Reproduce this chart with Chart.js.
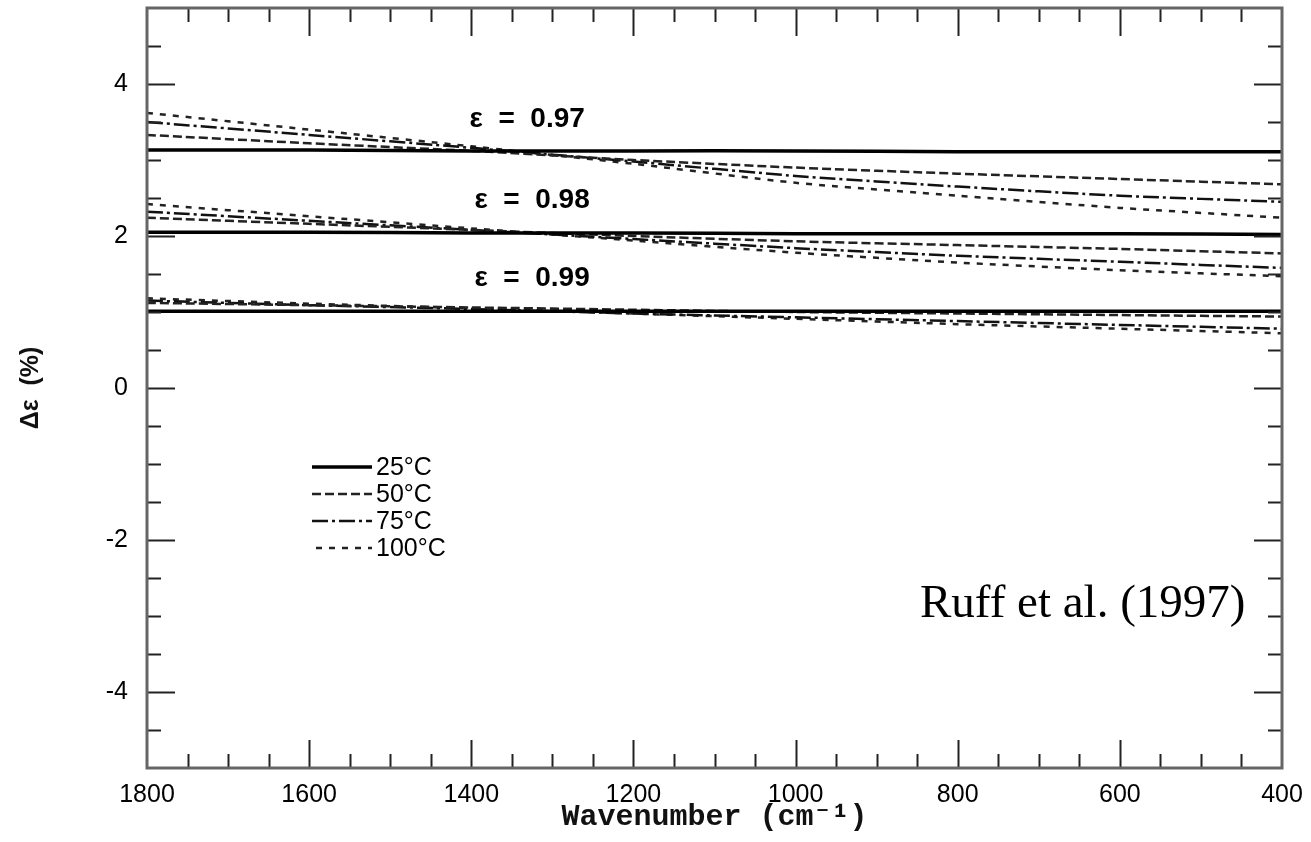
<!DOCTYPE html>
<html>
<head>
<meta charset="utf-8">
<script src="https://cdn.jsdelivr.net/npm/chart.js@4.4.1/dist/chart.umd.min.js"></script>
<style>
  html, body { margin: 0; padding: 0; background: #fff; }
  #wrap { width: 1311px; height: 842px; }
</style>
</head>
<body>
<div id="wrap"><canvas id="chart" width="1311" height="842"></canvas></div>
<script>
// wavenumber (cm-1) sample points
const wavenumbers = [1800, 1600, 1400, 1200, 1000, 800, 600, 400];

// delta emissivity (%) for eps = 0.97
const e97_25  = [3.13, 3.13, 3.12, 3.12, 3.12, 3.11, 3.11, 3.11];
const e97_50  = [3.33, 3.22, 3.12, 3.00, 2.90, 2.82, 2.75, 2.68];
const e97_75  = [3.50, 3.33, 3.16, 2.98, 2.79, 2.65, 2.53, 2.45];
const e97_100 = [3.62, 3.40, 3.18, 2.95, 2.70, 2.53, 2.37, 2.24];
// eps = 0.98
const e98_25  = [2.05, 2.05, 2.04, 2.04, 2.03, 2.03, 2.03, 2.02];
const e98_50  = [2.24, 2.16, 2.08, 2.00, 1.93, 1.88, 1.83, 1.77];
const e98_75  = [2.32, 2.20, 2.08, 1.96, 1.84, 1.74, 1.66, 1.58];
const e98_100 = [2.42, 2.26, 2.10, 1.94, 1.78, 1.65, 1.55, 1.47];
// eps = 0.99
const e99_25  = [1.01, 1.01, 1.01, 1.01, 1.01, 1.01, 1.01, 1.01];
const e99_50  = [1.12, 1.09, 1.06, 1.03, 1.00, 0.98, 0.96, 0.94];
const e99_75  = [1.15, 1.09, 1.04, 0.98, 0.93, 0.88, 0.83, 0.78];
const e99_100 = [1.18, 1.11, 1.05, 0.98, 0.91, 0.84, 0.78, 0.72];

const temps = ["25°C", "50°C", "75°C", "100°C"];
const groups = [
  [e97_25, e97_50, e97_75, e97_100],
  [e98_25, e98_50, e98_75, e98_100],
  [e99_25, e99_50, e99_75, e99_100],
];
const epsLabels = ["ε  =  0.97", "ε  =  0.98", "ε  =  0.99"];
const epsLabelX = [1331, 1325, 1325];
const epsLabelY = [3.53, 2.47, 1.45];
const yLabelTicks = [-4, -2, 0, 2, 4];

const styles = [
  {color: "#000",    width: 3.5, dash: []},
  {color: "#222",    width: 2.5, dash: [9, 4]},
  {color: "#111",    width: 2.5, dash: [16, 4, 3, 4]},
  {color: "#222",    width: 2.5, dash: [6, 7]},
];

const datasets = [];
groups.forEach((g, gi) => {
  g.forEach((vals, ti) => {
    const s = styles[ti];
    datasets.push({
      label: temps[ti] + " " + epsLabels[gi],
      data: wavenumbers.map((w, i) => ({x: w, y: vals[i]})),
      borderColor: s.color, borderWidth: s.width, borderDash: s.dash,
      pointRadius: 0, fill: false, tension: 0.2,
    });
  });
});

const noPad = s => { s.paddingTop = 0; s.paddingBottom = 0; s.paddingLeft = 0; s.paddingRight = 0; };

const decor = {
  id: "decor",
  afterDatasetsDraw(chart) {
    const {ctx, chartArea: a, scales: {x, y}} = chart;
    ctx.save();
    // inward ticks on all four sides
    ctx.strokeStyle = "#222";
    ctx.lineWidth = 2;
    for (let v = 450; v < 1800; v += 50) {
      const len = v % 200 === 0 ? 28 : 14;
      const px = Math.round(x.getPixelForValue(v)) + 0.5;
      ctx.beginPath();
      ctx.moveTo(px, a.bottom); ctx.lineTo(px, a.bottom - len);
      ctx.moveTo(px, a.top); ctx.lineTo(px, a.top + len);
      ctx.stroke();
    }
    for (let v = -4.5; v < 5; v += 0.5) {
      const len = v % 2 === 0 ? 28 : 14;
      const py = Math.round(y.getPixelForValue(v)) + 0.5;
      ctx.beginPath();
      ctx.moveTo(a.left, py); ctx.lineTo(a.left + len, py);
      ctx.moveTo(a.right, py); ctx.lineTo(a.right - len, py);
      ctx.stroke();
    }
    // frame
    ctx.strokeStyle = "#666";
    ctx.lineWidth = 3;
    ctx.strokeRect(a.left, a.top, a.right - a.left, a.bottom - a.top);

    // emissivity labels
    ctx.fillStyle = "#000";
    ctx.font = "bold 28px 'Liberation Sans', Arial, sans-serif";
    ctx.textAlign = "center";
    ctx.textBaseline = "middle";
    epsLabels.forEach((t, i) => {
      ctx.fillText(t, x.getPixelForValue(epsLabelX[i]), y.getPixelForValue(epsLabelY[i]));
    });

    // legend
    ctx.textAlign = "left";
    ctx.font = "25px 'Liberation Sans', Arial, sans-serif";
    temps.forEach((t, i) => {
      const ly = 467 + i * 27;
      const s = styles[i];
      ctx.strokeStyle = s.color;
      ctx.lineWidth = s.width;
      ctx.setLineDash(s.dash);
      ctx.beginPath();
      ctx.moveTo(i === 3 ? 316 : 312, ly); ctx.lineTo(372, ly);
      ctx.stroke();
      ctx.setLineDash([]);
      ctx.fillText(t, 376, ly + 1);
    });

    // citation
    ctx.font = "47px 'Liberation Serif', 'Times New Roman', serif";
    ctx.textBaseline = "alphabetic";
    ctx.fillText("Ruff et al. (1997)", 920, 617);
    ctx.restore();
  }
};

new Chart(document.getElementById("chart"), {
  type: "line",
  data: {datasets},
  plugins: [decor],
  options: {
    responsive: false,
    animation: false,
    layout: {autoPadding: false, padding: {top: 8, right: 29, left: 0, bottom: 0}},
    plugins: {legend: {display: false}, tooltip: {enabled: false}},
    scales: {
      x: {
        type: "linear", min: 400, max: 1800, reverse: true,
        grid: {display: false, drawTicks: false}, border: {display: false},
        ticks: {stepSize: 200, autoSkip: false, maxRotation: 0, padding: 12, color: "#000",
                callback: v => String(v),
                font: {family: "'Liberation Sans', Arial, sans-serif", size: 25}},
        title: {display: true, text: "Wavenumber (cm⁻¹)", color: "#111", padding: {top: 0, bottom: 7},
                font: {family: "'Liberation Mono', 'Courier New', monospace", size: 30, weight: "bold"}},
        afterFit: s => { s.height = 74; noPad(s); },
      },
      y: {
        min: -5, max: 5,
        grid: {display: false, drawTicks: false}, border: {display: false},
        afterBuildTicks: s => { s.ticks = yLabelTicks.map(v => ({value: v})); },
        ticks: {autoSkip: false, padding: 19, color: "#000",
                callback: v => String(v),
                font: {family: "'Liberation Sans', Arial, sans-serif", size: 25}},
        title: {display: true, text: "Δε  (%)", color: "#111", padding: {top: 16, bottom: 0},
                font: {family: "'Liberation Sans', Arial, sans-serif", size: 25, weight: "bold"}},
        afterFit: s => { s.width = 147; noPad(s); },
      },
    },
  },
});
</script>
</body>
</html>
